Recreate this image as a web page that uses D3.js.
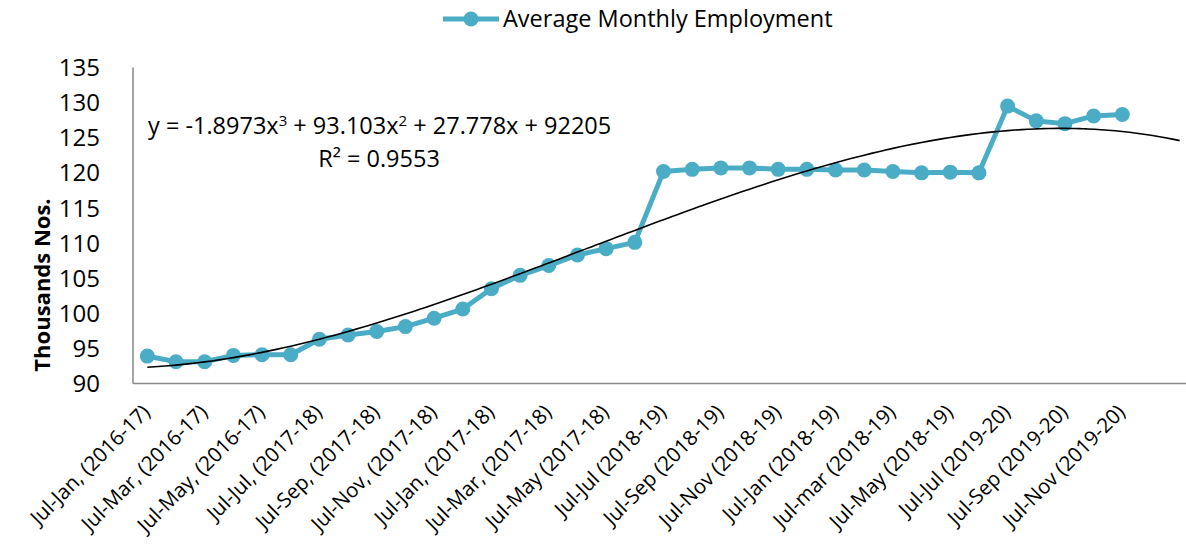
<!DOCTYPE html>
<html>
<head>
<meta charset="utf-8">
<script src="https://cdn.jsdelivr.net/npm/d3@7"></script>
<style>
  body { margin: 0; background: #fff; }
  svg text { font-family: "Open Sans", sans-serif; fill: #000; }
</style>
</head>
<body>
<svg width="1186" height="559"></svg>
<script>
// data (thousands)
const seriesName = "Average Monthly Employment";
const employment = [
    93.9, 93.1, 93.1, 94.0, 94.1, 94.1, 96.3, 96.9, 97.4, 98.1,
    99.3, 100.6, 103.5, 105.4, 106.8, 108.3, 109.2, 110.1, 120.2, 120.5,
    120.7, 120.7, 120.5, 120.5, 120.4, 120.4, 120.2, 120.0, 120.1, 120.0,
    129.5, 127.4, 127.0, 128.1, 128.3
];
// only every other category is labelled on the axis
const tickLabels = [
    "Jul-Jan, (2016-17)", "Jul-Mar, (2016-17)", "Jul-May, (2016-17)",
    "Jul-Jul, (2017-18)", "Jul-Sep, (2017-18)", "Jul-Nov, (2017-18)",
    "Jul-Jan, (2017-18)", "Jul-Mar, (2017-18)", "Jul-May (2017-18)",
    "Jul-Jul (2018-19)", "Jul-Sep (2018-19)", "Jul-Nov (2018-19)",
    "Jul-Jan (2018-19)", "Jul-mar (2018-19)", "Jul-May (2018-19)",
    "Jul-Jul (2019-20)", "Jul-Sep (2019-20)", "Jul-Nov (2019-20)"
];
const yTicks = [90, 95, 100, 105, 110, 115, 120, 125, 130, 135];
const yLabel = "Thousands Nos.";

// polynomial trendline as printed on the chart (x = 1-based period, y in persons)
const trendCoef = [92205, 27.778, 93.103, -1.8973];
const forecastPeriods = 2;
const r2Text = "R² = 0.9553";

const color = "#4bacc6";
const svg = d3.select("svg");
const nSlots = employment.length + forecastPeriods;

const x = d3.scaleLinear().domain([-0.5, nSlots - 0.5]).range([133, 1194]);
const y = d3.scaleLinear().domain([90, 135]).range([383.5, 67.5]);

// axes (no tick marks)
svg.append("line")
    .attr("x1", x.range()[0]).attr("x2", x.range()[1])
    .attr("y1", y(90)).attr("y2", y(90))
    .attr("stroke", "#898989").attr("stroke-width", 1.5);
svg.append("line")
    .attr("x1", x.range()[0]).attr("x2", x.range()[0])
    .attr("y1", y(90)).attr("y2", y(135))
    .attr("stroke", "#898989").attr("stroke-width", 1.5);

svg.selectAll(".ytick")
    .data(yTicks)
    .enter()
    .append("text")
    .attr("class", "ytick")
    .attr("x", 100)
    .attr("y", d => y(d))
    .attr("dy", "0.36em")
    .attr("text-anchor", "end")
    .style("font-size", "24px")
    .text(d => d);

svg.selectAll(".xtick")
    .data(tickLabels)
    .enter()
    .append("text")
    .attr("class", "xtick")
    .attr("transform", (d, i) => `translate(${x(i * 2) + 4},${y(90) + 30}) rotate(-45)`)
    .attr("text-anchor", "end")
    .style("font-size", "20.5px")
    .text(d => d);

svg.append("text")
    .attr("transform", "translate(50,285) rotate(-90)")
    .attr("text-anchor", "middle")
    .style("font-size", "22px")
    .style("font-weight", "bold")
    .text(yLabel);

// series
const line = d3.line()
    .x((d, i) => x(i))
    .y(d => y(d));

svg.append("path")
    .datum(employment)
    .attr("d", line)
    .attr("fill", "none")
    .attr("stroke", color)
    .attr("stroke-width", 5)
    .attr("stroke-linejoin", "round");

svg.selectAll(".point")
    .data(employment)
    .enter()
    .append("circle")
    .attr("class", "point")
    .attr("cx", (d, i) => x(i))
    .attr("cy", d => y(d))
    .attr("r", 7.5)
    .attr("fill", color);

// trendline
const trendPts = d3.range(0, nSlots - 1 + 0.001, 0.25).map(i => {
    const t = i + 1;
    const v = trendCoef[0] + trendCoef[1] * t + trendCoef[2] * t * t + trendCoef[3] * t * t * t;
    return [i, v / 1000];
});
svg.append("path")
    .datum(trendPts)
    .attr("d", d3.line().x(d => x(d[0])).y(d => y(d[1])).curve(d3.curveMonotoneX))
    .attr("fill", "none")
    .attr("stroke", "#000")
    .attr("stroke-width", 1.6);

// trendline label
const eq = svg.append("text")
    .attr("x", 148)
    .attr("y", 134)
    .style("font-size", "23.5px");
eq.append("tspan").text("y = " + trendCoef[3] + "x");
eq.append("tspan").attr("dy", -8).style("font-size", "15px").text("3");
eq.append("tspan").attr("dy", 8).text(" + " + trendCoef[2] + "x");
eq.append("tspan").attr("dy", -8).style("font-size", "15px").text("2");
eq.append("tspan").attr("dy", 8).text(" + " + trendCoef[1] + "x + " + trendCoef[0]);

svg.append("text")
    .attr("x", 379)
    .attr("y", 167)
    .attr("text-anchor", "middle")
    .style("font-size", "23.5px")
    .text(r2Text);

// legend
const lg = svg.append("g").attr("transform", "translate(443,19)");
lg.append("line")
    .attr("x1", 0).attr("x2", 56)
    .attr("stroke", color).attr("stroke-width", 5);
lg.append("circle").attr("cx", 28).attr("r", 7.5).attr("fill", color);
lg.append("text")
    .attr("x", 60)
    .attr("dy", "0.35em")
    .style("font-size", "23.5px")
    .text(seriesName);
</script>
</body>
</html>
